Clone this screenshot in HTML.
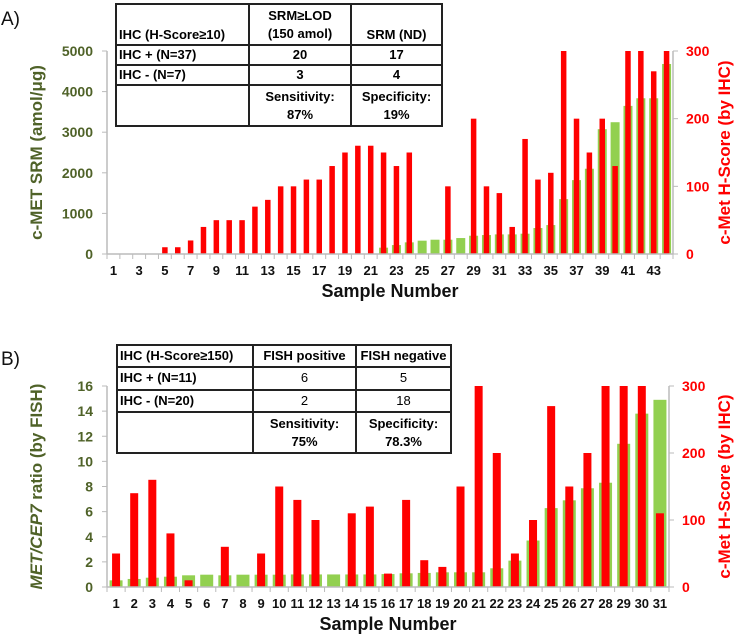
<!DOCTYPE html>
<html><head><meta charset="utf-8"><style>
body{margin:0;background:#fff;width:740px;height:638px;overflow:hidden;font-family:"Liberation Sans",sans-serif}
svg{position:absolute;left:0;top:0}
table{position:absolute;border-collapse:collapse;font-family:"Liberation Sans",sans-serif;font-size:13px;font-weight:bold;background:#fff;table-layout:fixed}
td{border:2px solid #222;padding:0 2px;text-align:center;line-height:18px;white-space:nowrap;overflow:hidden}
td.l{text-align:left}
</style></head><body>
<svg id="c" width="740" height="638"></svg>
<table id="tA" style="left:115px;top:3px;width:328px;height:124px">
<tr style="height:41px"><td class="l" style="vertical-align:bottom;width:127px">IHC (H-Score≥10)</td><td style="width:96px">SRM≥LOD<br>(150 amol)</td><td style="vertical-align:bottom">SRM (ND)</td></tr>
<tr><td class="l">IHC + (N=37)</td><td>20</td><td>17</td></tr>
<tr><td class="l">IHC - (N=7)</td><td>3</td><td>4</td></tr>
<tr style="height:41px"><td></td><td>Sensitivity:<br>87%</td><td>Specificity:<br>19%</td></tr>
</table>
<table id="tB" style="left:116px;top:344px;width:336px;height:110px">
<tr><td class="l" style="width:130px">IHC (H-Score≥150)</td><td style="width:97px">FISH positive</td><td>FISH negative</td></tr>
<tr><td class="l">IHC + (N=11)</td><td style="font-weight:normal">6</td><td style="font-weight:normal">5</td></tr>
<tr><td class="l">IHC - (N=20)</td><td style="font-weight:normal">2</td><td style="font-weight:normal">18</td></tr>
<tr style="height:41px"><td></td><td>Sensitivity:<br>75%</td><td>Specificity:<br>78.3%</td></tr>
</table>
<script>
const srmA=[0,0,0,0,0,0,0,0,0,0,0,0,0,0,0,0,0,0,0,0,0,156,220,287,328,352,352,393,450,467,483,483,500,640,713,1352,1820,2100,3074,3246,3648,3836,3836,4680];
const ihcA=[0,0,0,0,10,10,20,40,50,50,50,70,80,100,100,110,110,130,150,160,160,150,130,150,0,0,100,0,200,100,90,40,170,110,120,300,200,150,200,130,300,300,270,300];
const leftTicksA=[0,1000,2000,3000,4000,5000];
const fishB=[0.53,0.64,0.74,0.82,0.93,0.98,0.93,0.98,0.98,0.98,1.0,1.0,1.0,1.0,1.0,1.03,1.09,1.12,1.17,1.17,1.17,1.49,2.1,3.7,6.28,6.9,7.86,8.3,11.4,13.8,14.9];
const ihcB=[50,140,160,80,10,0,60,0,50,150,130,100,0,110,120,20,130,40,30,150,300,200,50,100,270,150,200,300,300,300,110];
const leftTicksB=[0,2,4,6,8,10,12,14,16];
const rightTicks=[0,100,200,300];
const NS='http://www.w3.org/2000/svg';
const svg=document.getElementById('c');
function el(t,a,txt){const e=document.createElementNS(NS,t);for(const k in a)e.setAttribute(k,a[k]);if(txt!==undefined)e.textContent=txt;svg.appendChild(e);return e;}
function panel(p){
 const n=p.green.length,bw=(p.x1-p.x0)/n;
 const yL=v=>p.y0-(v/p.lmax)*(p.y0-p.yt), yR=v=>p.y0-(v/300)*(p.y0-p.yt), xc=i=>p.x0+bw*(i+0.5);
 let e;
 e=el('line',{x1:p.x0,y1:p.yt,x2:p.x0,y2:p.y0,stroke:'#bbb','stroke-width':1.5});
 
 e=el('line',{x1:p.x1,y1:p.yt,x2:p.x1,y2:p.y0,stroke:'#bbb','stroke-width':1.5});
 
 p.lt.forEach(v=>{el('line',{x1:p.x0-5,x2:p.x0,y1:yL(v),y2:yL(v),stroke:'#bbb'});
  e=el('text',{x:p.x0-14,y:yL(v)+5,'text-anchor':'end','font-size':14,'font-weight':'bold',fill:'#4F6228'},v);
  });
 rightTicks.forEach(v=>{el('line',{x1:p.x1,x2:p.x1+5,y1:yR(v),y2:yR(v),stroke:'#bbb'});
  e=el('text',{x:p.x1+13,y:yR(v)+5,'font-size':14,'font-weight':'bold',fill:'#f00'},v);
  });
 for(let i=0;i<n;i++){
  if(p.green[i]>0){e=el('rect',{x:xc(i)-p.gw/2,y:yL(p.green[i]),width:p.gw,height:p.y0-yL(p.green[i]),fill:'#92D050'});
   }
 }
 for(let i=0;i<n;i++){
  if(p.red[i]>0){e=el('rect',{x:xc(i)-p.rw/2,y:yR(p.red[i]),width:p.rw,height:p.y0-yR(p.red[i]),fill:'#f00'});
   }
 }
 e=el('line',{x1:p.x0,y1:p.y0,x2:p.x1,y2:p.y0,stroke:'#bbb','stroke-width':1.5});
 
 for(let i=0;i<=n;i++)el('line',{x1:p.x0+bw*i,x2:p.x0+bw*i,y1:p.y0,y2:p.y0+5,stroke:'#bbb'});
 for(let i=0;i<n;i+=p.step){e=el('text',{x:xc(i),y:p.y0+21,'text-anchor':'middle','font-size':p.fs,'font-weight':'bold',fill:'#111'},i+1);
  }
 e=el('text',{x:(p.x0+p.x1)/2,y:p.y0+43,'text-anchor':'middle','font-size':18,'font-weight':'bold',fill:'#111'},'Sample Number');
 
 const cy=(p.y0+p.yt)/2;
 e=el('text',{x:730,y:cy,'text-anchor':'middle','font-size':17,'font-weight':'bold',fill:'#f00',transform:`rotate(-90 730 ${cy})`},'c-Met H-Score (by IHC)');
 
 return cy;
}
let cy=panel({id:'a',green:srmA,red:ihcA,lmax:5000,lt:leftTicksA,x0:107,x1:673,y0:254,yt:51,gw:9,rw:5.5,step:2,fs:13});
let e=el('text',{x:42,y:cy,'text-anchor':'middle','font-size':17,'font-weight':'bold',fill:'#4F6228',transform:`rotate(-90 42 ${cy})`},'c-MET SRM (amol/μg)');

cy=panel({id:'b',green:fishB,red:ihcB,lmax:16,lt:leftTicksB,x0:107,x1:669,y0:587,yt:386,gw:13,rw:8,step:1,fs:13});
e=el('text',{x:42,y:cy,'text-anchor':'middle','font-size':17,'font-weight':'bold',fill:'#4F6228',transform:`rotate(-90 42 ${cy})`});
e.innerHTML='<tspan font-style="italic">MET/CEP7</tspan> ratio (by FISH)';

e=el('text',{x:1,y:25,'font-size':19,fill:'#111'},'A)');

e=el('text',{x:1,y:365,'font-size':19,fill:'#111'},'B)');

</script>
</body></html>
